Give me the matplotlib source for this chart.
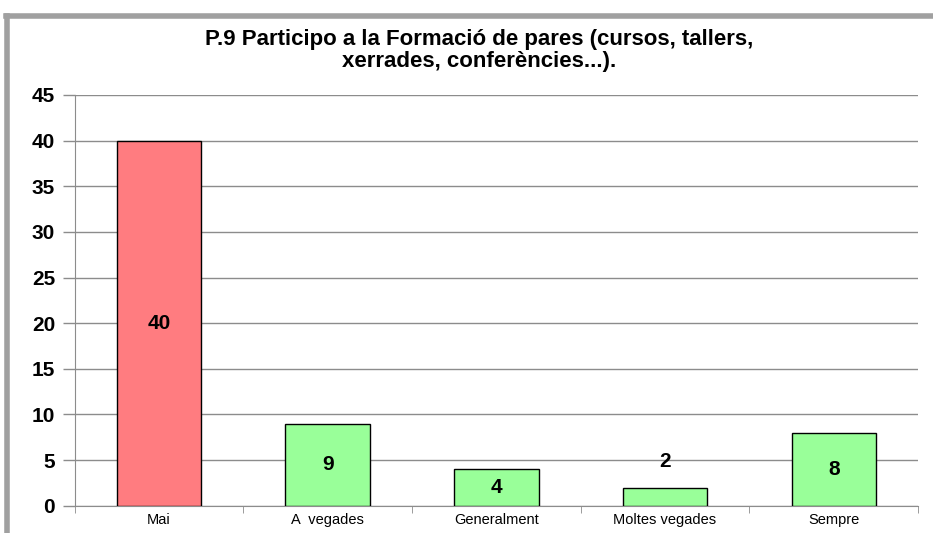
import matplotlib.pyplot as plt
import numpy as np
from matplotlib.lines import Line2D

categories = ["Mai", "A  vegades", "Generalment", "Moltes vegades", "Sempre"]
values = [40, 9, 4, 2, 8]
colors = ["#FF7C80", "#99FF99", "#99FF99", "#99FF99", "#99FF99"]

plt.rcParams['font.family'] = ['Liberation Sans', 'DejaVu Sans']

fig = plt.figure(figsize=(9.33, 5.33), dpi=100)
ax = fig.add_axes([0.080, 0.051, 0.904, 0.771])

x = np.arange(len(categories))
ax.bar(x, values, width=0.5, color=colors, edgecolor="black", linewidth=1, zorder=3)

# value labels (centered in bar, above when too short)
for xi, v in zip(x, values):
    if v >= 3:
        ax.text(xi, v / 2, str(v), ha="center", va="center", fontsize=15, fontweight="bold", zorder=4)
    else:
        ax.text(xi, v + 2.8, str(v), ha="center", va="center", fontsize=15, fontweight="bold", zorder=4)

ax.set_xlim(-0.5, len(categories) - 0.5)
ax.set_ylim(0, 45)
ax.set_yticks(range(0, 46, 5))
ax.yaxis.grid(True, color="#8C8C8C", linewidth=1, zorder=0)
ax.tick_params(axis="y", labelsize=15, length=9, color="#8C8C8C", width=1, pad=5)
for lab in ax.get_yticklabels():
    lab.set_fontweight("bold")

ax.set_xticks(x)
ax.set_xticklabels(categories, fontsize=10.5)
ax.tick_params(axis="x", length=0, pad=5)
ax.set_xticks(np.arange(-0.5, len(categories), 1), minor=True)
ax.tick_params(axis="x", which="minor", length=5, color="#8C8C8C")

for s in ["top", "right"]:
    ax.spines[s].set_visible(False)
ax.spines["left"].set_color("#8C8C8C")
ax.spines["bottom"].set_color("#8C8C8C")

fig.text(0.514, 0.905, "P.9 Participo a la Formació de pares (cursos, tallers,\nxerrades, conferències...).",
         ha="center", va="center", fontsize=16, fontweight="bold", linespacing=1.1)

# outer frame (top and left edges of the chart box)
fig.add_artist(Line2D([0.006, 1.0], [0.970, 0.970], transform=fig.transFigure, color="#A0A0A0", linewidth=4))
fig.add_artist(Line2D([0.008, 0.008], [0.0, 0.970], transform=fig.transFigure, color="#A0A0A0", linewidth=4))

fig.savefig("out.png", dpi=100)
